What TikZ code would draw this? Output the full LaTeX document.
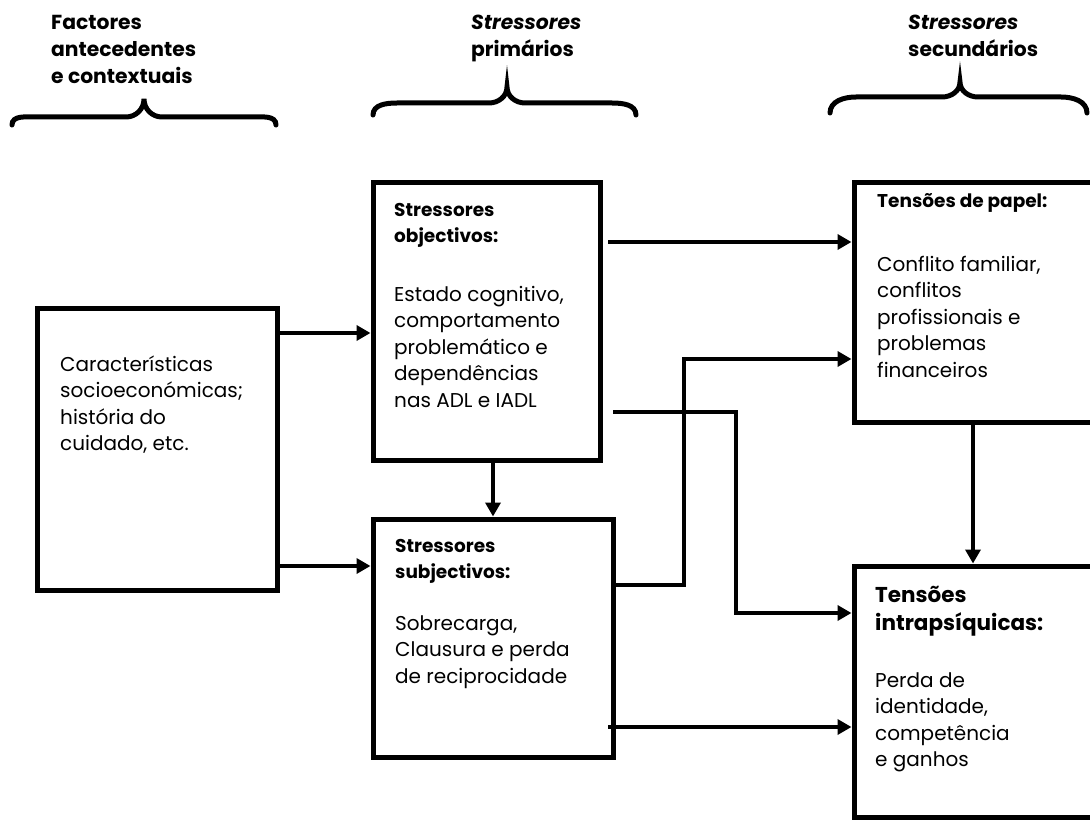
\documentclass[tikz,border=0pt]{standalone}
\usepackage{fontspec}
\setmainfont{Poppins}
\usetikzlibrary{arrows.meta}
\tikzset{
  box/.style={draw, line width=5pt, rectangle, inner sep=0pt, outer sep=2.5pt},
  arr/.style={line width=4.5pt, -{Triangle[length=14pt,width=15pt]}},
  brace/.style={line width=5pt, line cap=round},
  txt/.style={inner sep=0pt, anchor=base west, align=left, font=\fontsize{20}{26.5}\selectfont},
  hdr/.style={inner sep=0pt, anchor=base west, align=left, font=\fontsize{20.3}{27}\selectfont\bfseries},
  bhdr/.style={inner sep=0pt, anchor=base west, align=left, font=\fontsize{18.5}{26}\selectfont\bfseries},
}
\begin{document}
\begin{tikzpicture}[x=1pt,y=-1pt]
\path[use as bounding box, fill=white] (0,0) rectangle (1090,821);

% column headers (anchor = baseline of the last line)
\node[hdr] (h1) at (51,84) {Factores\\antecedentes\\e contextuais};
\node[hdr] (h2) at (471,57) {\textit{Stressores}\\primários};
\node[hdr] (h3) at (908,57) {\textit{Stressores}\\secundários};

% braces
\draw[brace] (12,125) to[out=90,in=180] (36,117) -- (126,117) to[out=0,in=-90] (144,99)
  to[out=-90,in=180] (162,117) -- (252,117) to[out=0,in=90] (276,125);
\draw[brace] (373,115) to[out=90,in=180] (397,103) -- (489,103) to[out=0,in=-90] (507,87)
  to[out=-90,in=180] (525,103) -- (612,103) to[out=0,in=90] (636,115);
\draw[brace] (830,113) to[out=90,in=180] (856,97) -- (942,97) to[out=0,in=-90] (960,82)
  to[out=-90,in=180] (978,97) -- (1061,97) to[out=0,in=90] (1087,113);

% boxes
\node[box, minimum width=239.5pt, minimum height=282pt] (A) at (157.25,449) {};
\node[box, minimum width=227pt, minimum height=277pt] (B) at (486.5,321.5) {};
\node[box, minimum width=246pt, minimum height=239pt] (C) at (977,302.5) {};
\node[box, minimum width=240pt, minimum height=238pt] (D) at (493,638) {};
\node[box, minimum width=246pt, minimum height=251pt] (E) at (977,691.5) {};

% box texts (anchor = baseline of the last line)
\node[txt] (tA) at (60,450.5) {Características\\socioeconómicas;\\história do\\cuidado, etc.};
\node[bhdr] (hB) at (394,243) {Stressores\\objectivos:};
\node[txt] (tB) at (394,407) {Estado cognitivo,\\comportamento\\problemático e\\dependências\\nas ADL e IADL};
\node[bhdr] (hC) at (877,208) {Tensões de papel:};
\node[txt] (tC) at (877,377) {Conflito familiar,\\conflitos\\profissionais e\\problemas\\financeiros};
\node[bhdr] (hD) at (395,578) {Stressores\\subjectivos:};
\node[txt] (tD) at (395,683) {Sobrecarga,\\Clausura e perda\\de reciprocidade};
\node[inner sep=0pt, anchor=base west, align=left, font=\fontsize{21.5}{28}\selectfont\bfseries] (hE) at (875,630) {Tensões\\intrapsíquicas:};
\node[txt] (tE) at (875,766.5) {Perda de\\identidade,\\competência\\e ganhos};

% helper coordinates
\coordinate (hAB) at (0,333);
\coordinate (hAD) at (0,566);
\coordinate (vBD) at (493,0);
\coordinate (sBC) at (608,242);
\coordinate (sBE) at (613,412);
\coordinate (kBE) at (736,613);
\coordinate (hDC) at (0,585);
\coordinate (kDC) at (684,359);
\coordinate (vCE) at (973,0);
\coordinate (sDE) at (608,727);

% connectors
\draw[arr] (A.east |- hAB) -- (B.west |- hAB);
\draw[arr] (A.east |- hAD) -- (D.west |- hAD);
\draw[arr] (B.south -| vBD) -- (D.north -| vBD);
\draw[arr] (sBC) -- (C.west |- sBC);
\draw[arr] (sBE) -| (kBE) -- (E.west |- kBE);
\draw[arr] (D.east |- hDC) -| (kDC) -- (C.west |- kDC);
\draw[arr] (C.south -| vCE) -- (E.north -| vCE);
\draw[arr] (sDE) -- (E.west |- sDE);
\end{tikzpicture}
\end{document}
